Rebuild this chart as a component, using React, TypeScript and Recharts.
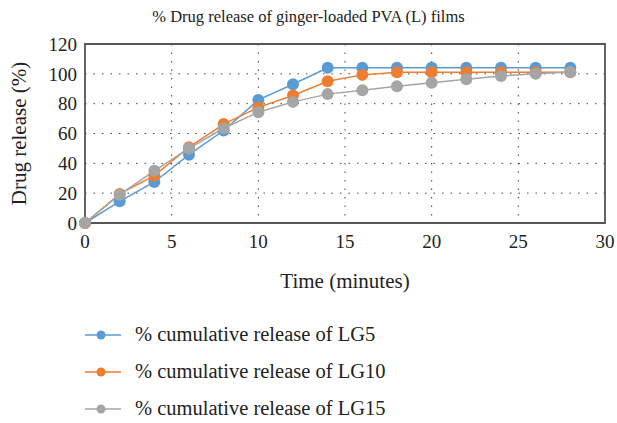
import { LineChart, Line, XAxis, YAxis, CartesianGrid, ReferenceArea } from "recharts";

const TIME = [0, 2, 4, 6, 8, 10, 12, 14, 16, 18, 20, 22, 24, 26, 28];
const LG5 = [0, 14.5, 27.5, 45.8, 62, 82.5, 93, 104, 104, 104, 104, 104, 104, 104, 104];
const LG10 = [0, 19.5, 31.8, 50.8, 66.3, 77.5, 85.5, 95, 99.3, 101, 101, 101, 101, 101, 101];
const LG15 = [0, 19, 35, 50, 63.5, 74.3, 81.2, 86.4, 89, 91.6, 94, 96.4, 98.6, 100, 101.2];
const X_TICKS = [0, 5, 10, 15, 20, 25, 30];
const Y_TICKS = [0, 20, 40, 60, 80, 100, 120];

const SERIES = [
  { key: "lg5", name: "% cumulative release of LG5", color: "#5B9BD5" },
  { key: "lg10", name: "% cumulative release of LG10", color: "#ED7D31" },
  { key: "lg15", name: "% cumulative release of LG15", color: "#A5A5A5" },
];

const data = TIME.map((t, i) => ({ t, lg5: LG5[i], lg10: LG10[i], lg15: LG15[i] }));

const FONT = "'Liberation Serif', 'Times New Roman', serif";
const TEXT = "#222";

function LegendList() {
  return (
    <div
      style={{
        position: "absolute",
        left: 84,
        top: 316,
        fontFamily: FONT,
        fontSize: 20.5,
        color: TEXT,
      }}
    >
      {SERIES.map((s) => (
        <div key={s.key} style={{ display: "flex", alignItems: "center", height: 37 }}>
          <svg width={38} height={12} style={{ marginRight: 13 }}>
            <line x1={1} y1={6} x2={37} y2={6} stroke={s.color} strokeWidth={1.5} />
            <circle cx={17} cy={6} r={4.5} fill={s.color} />
          </svg>
          <span>{s.name}</span>
        </div>
      ))}
    </div>
  );
}

export default function App() {
  return (
    <div style={{ position: "fixed", left: 0, top: 0, width: 617, height: 423, background: "#fff" }}>
      <div
        style={{
          position: "absolute",
          top: 7,
          width: 617,
          textAlign: "center",
          fontFamily: FONT,
          fontSize: 16.5,
          color: TEXT,
        }}
      >
        % Drug release of ginger-loaded PVA (L) films
      </div>
      <LineChart
        width={617}
        height={423}
        data={data}
        margin={{ top: 44, right: 12, left: 8, bottom: 132 }}
        style={{ fontFamily: FONT }}
      >
        <CartesianGrid stroke="#444" strokeDasharray="1.5 7" />
        <XAxis
          dataKey="t"
          type="number"
          domain={[0, 30]}
          ticks={X_TICKS}
          interval={0}
          height={68}
          tickLine={false}
          axisLine={false}
          tickMargin={6}
          fontSize={19}
          tick={{ fill: TEXT, fontSize: 19 }}
          label={{ value: "Time (minutes)", position: "insideBottom", offset: 3, fill: TEXT, fontSize: 21 }}
        />
        <YAxis
          type="number"
          domain={[0, 120]}
          ticks={Y_TICKS}
          interval={0}
          width={77}
          tickLine={false}
          axisLine={false}
          fontSize={19}
          tick={{ fill: TEXT, fontSize: 19 }}
          label={{
            value: "Drug release (%)",
            angle: -90,
            position: "insideLeft",
            offset: 11,
            fill: TEXT,
            fontSize: 21,
            style: { textAnchor: "middle" },
          }}
        />
        <ReferenceArea x1={0} x2={30} y1={0} y2={120} fill="none" fillOpacity={0} stroke="#555" strokeWidth={1.8} />
        {SERIES.map((s) => (
          <Line
            key={s.key}
            dataKey={s.key}
            name={s.name}
            stroke={s.color}
            strokeWidth={1.5}
            dot={{ r: 6, fill: s.color, stroke: "none" }}
            isAnimationActive={false}
          />
        ))}
      </LineChart>
      <LegendList />
    </div>
  );
}
